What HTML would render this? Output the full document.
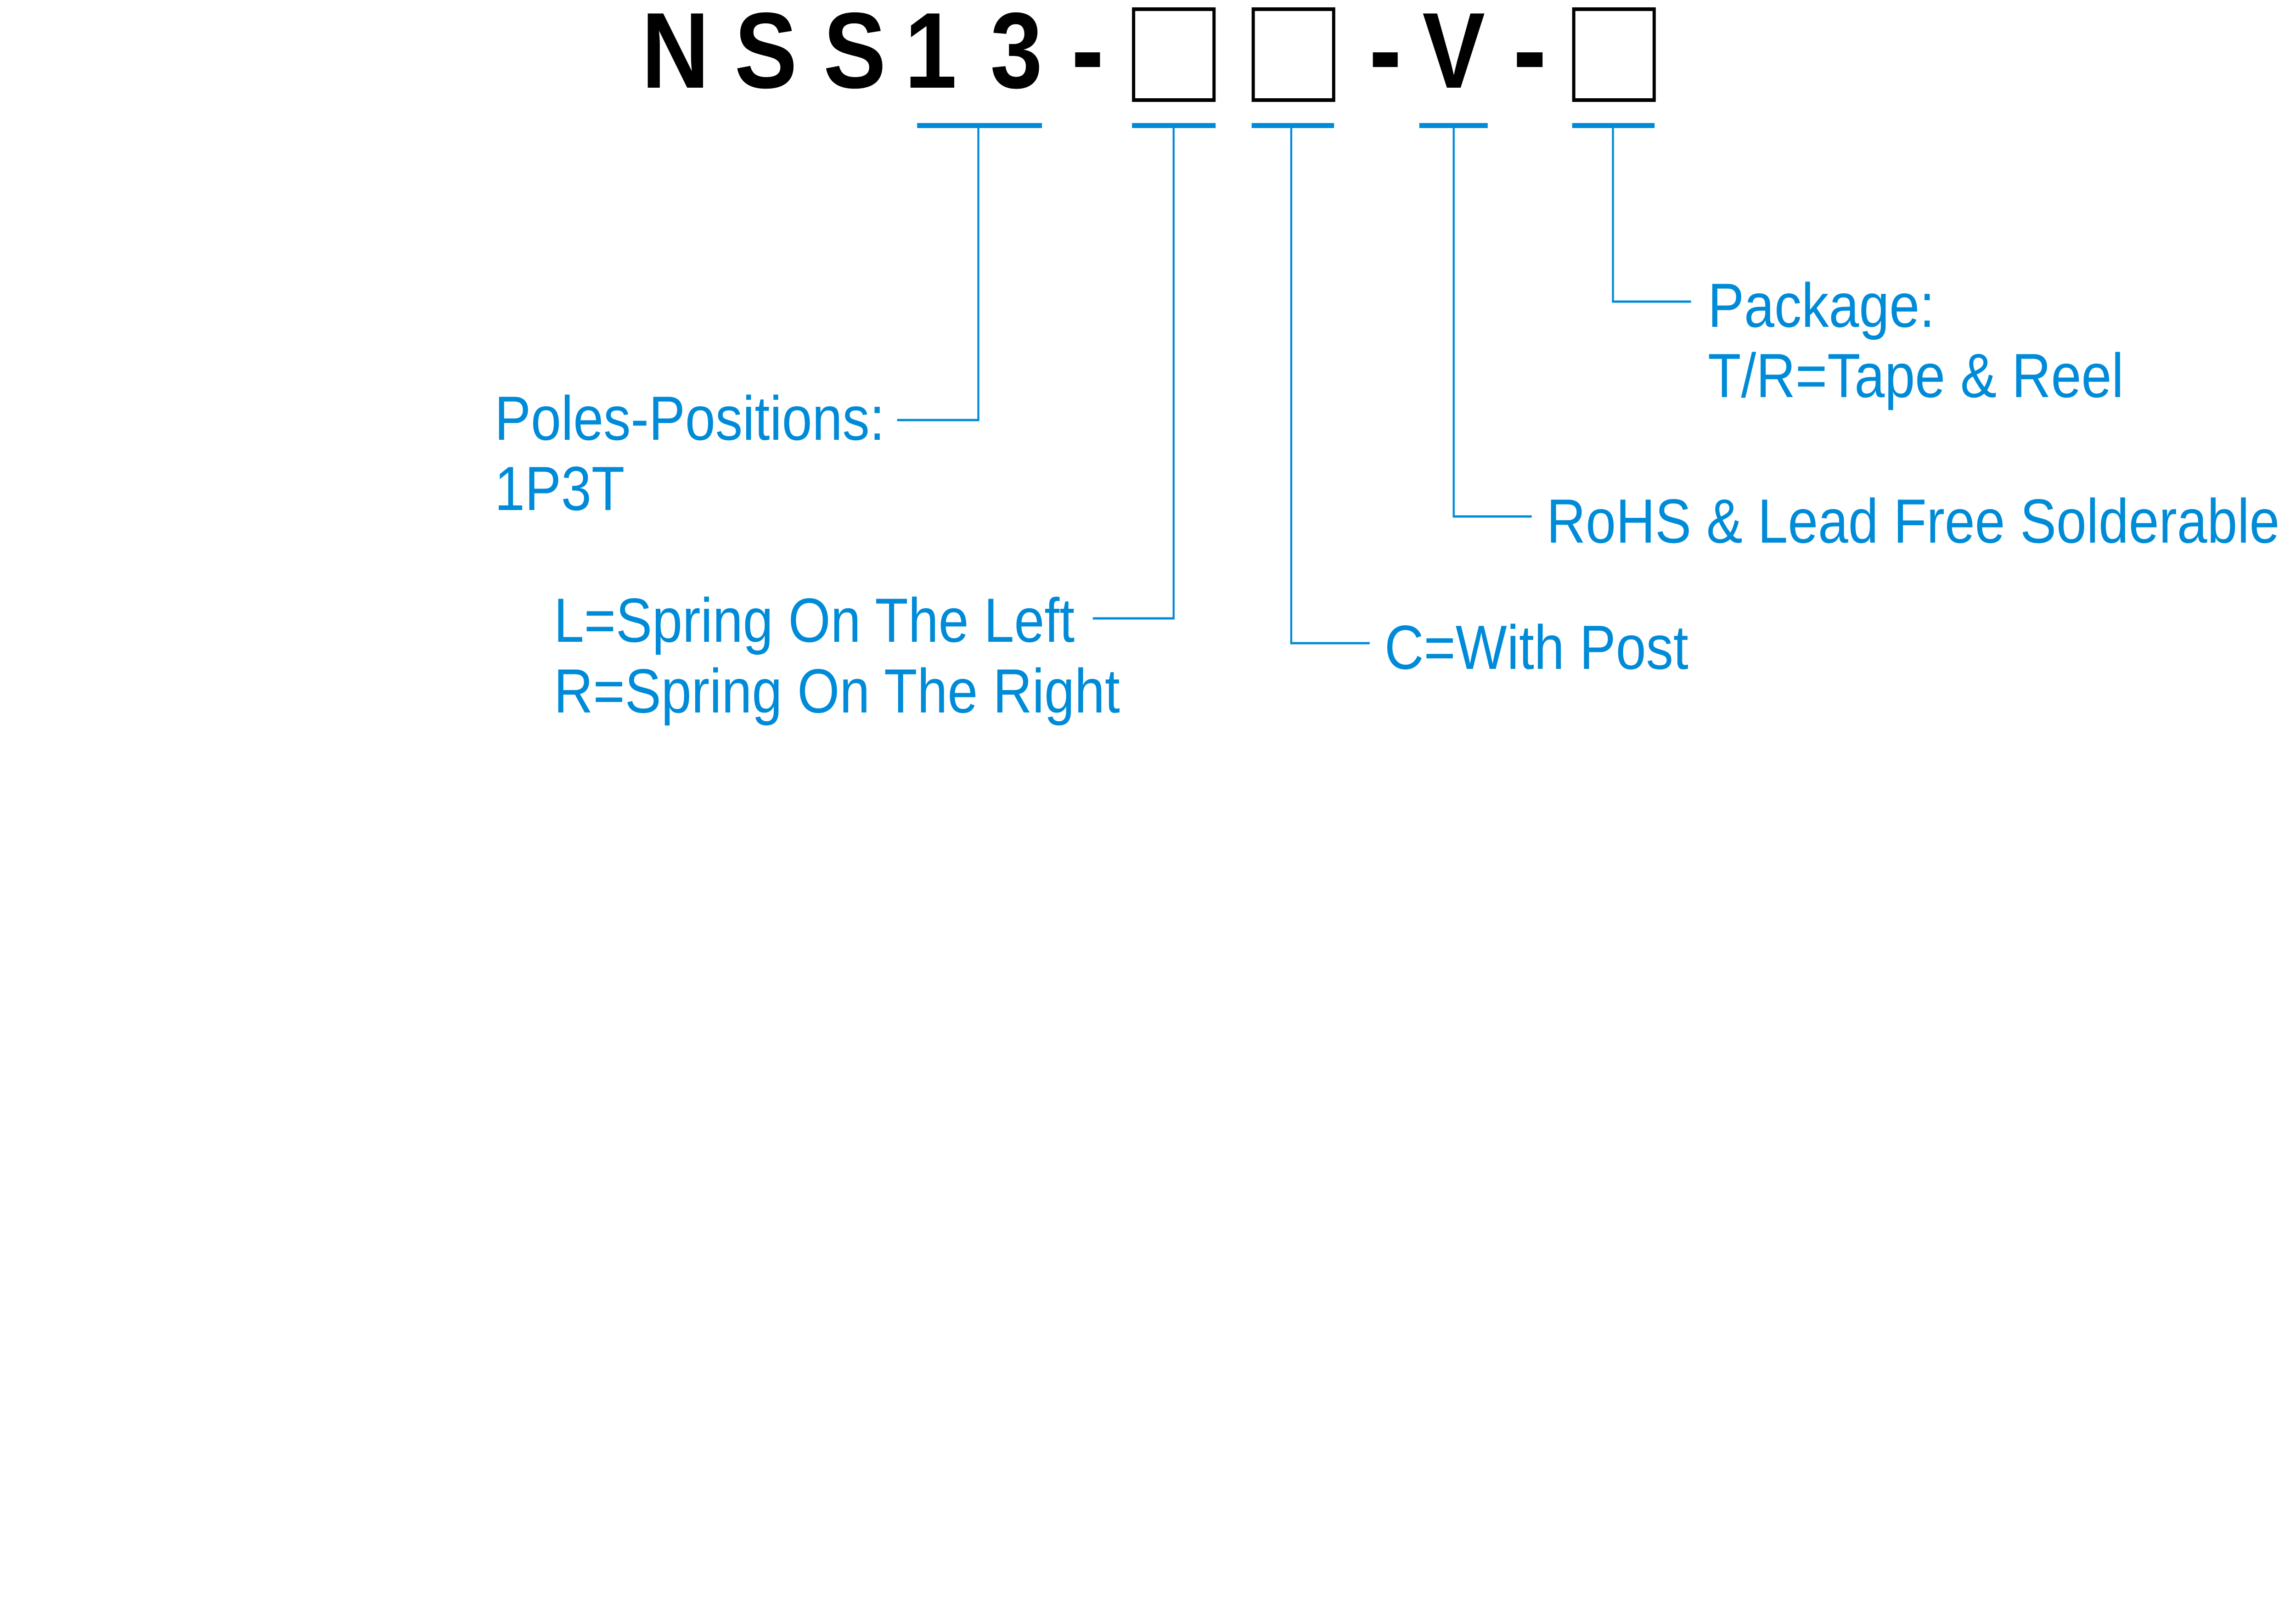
<!DOCTYPE html>
<html><head><meta charset="utf-8"><style>
html,body{margin:0;padding:0;background:#fff;width:100vw;height:100vh;overflow:hidden;}
svg{display:block;width:100vw;height:100vh;}
</style></head><body>
<svg viewBox="0 0 5738 3507" preserveAspectRatio="none" xmlns="http://www.w3.org/2000/svg">
<rect width="5738" height="3507" fill="#fff"/>
<g font-family="Liberation Sans, Arial, sans-serif" font-weight="bold" font-size="235" fill="#000" text-anchor="middle">
<text x="1688" y="191">N</text>
<text x="1914" y="191">S</text>
<text x="2136" y="191">S</text>
<text x="2326" y="191">1</text>
<text x="2540" y="191">3</text>
<text x="3633" y="191">V</text>
</g>
<g fill="#000">
<rect x="2687" y="114" width="62" height="32"/>
<rect x="3431" y="114" width="62" height="32"/>
<rect x="3791" y="114" width="64" height="32"/>
</g>
<g fill="none" stroke="#000" stroke-width="8">
<rect x="2833" y="20" width="201" height="198"/>
<rect x="3132" y="20" width="201" height="198"/>
<rect x="3933" y="20" width="201" height="198"/>
</g>
<g fill="#008BD8">
<rect x="2292" y="268" width="312" height="11"/>
<rect x="2829" y="268" width="209" height="11"/>
<rect x="3128" y="268" width="206" height="11"/>
<rect x="3547" y="268" width="171" height="11"/>
<rect x="3929" y="268" width="206" height="11"/>
</g>
<g fill="none" stroke="#008BD8" stroke-width="5">
<polyline points="2445,279 2445,915 2242,915"/>
<polyline points="2933,279 2933,1347 2731,1347"/>
<polyline points="3227,279 3227,1401 3423,1401"/>
<polyline points="3633,279 3633,1125 3828,1125"/>
<polyline points="4031,279 4031,657 4226,657"/>
</g>
<g font-family="Liberation Sans, Arial, sans-serif" font-size="136" fill="#008BD8">
<text x="1236" y="958">Poles-Positions:</text>
<text x="1236" y="1111">1P3T</text>
<text x="1384" y="1398">L=Spring On The Left</text>
<text x="1384" y="1552">R=Spring On The Right</text>
<text x="3460" y="1457">C=With Post</text>
<text x="3865" y="1182" textLength="1832" lengthAdjust="spacingAndGlyphs">RoHS &amp; Lead Free Solderable</text>
<text x="4268" y="712">Package:</text>
<text x="4268" y="865">T/R=Tape &amp; Reel</text>
</g>
</svg>
</body></html>
